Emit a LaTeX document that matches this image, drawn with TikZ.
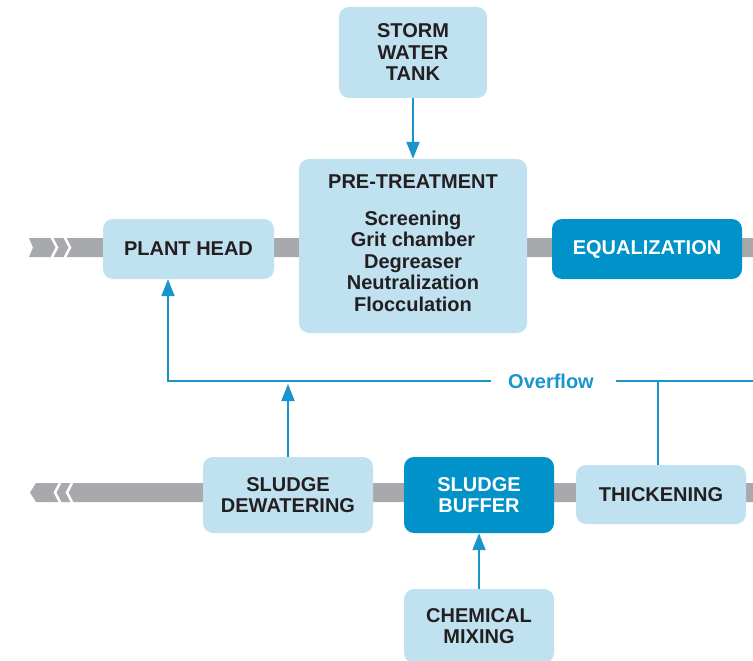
\documentclass[tikz,border=0pt]{standalone}
\usepackage{fontspec}
\setmainfont{Liberation Sans}
\usetikzlibrary{arrows.meta}
\definecolor{boxlight}{HTML}{C0E1F0}
\definecolor{boxdark}{HTML}{0092C8}
\definecolor{flowblue}{HTML}{1A95CC}
\definecolor{bandgray}{HTML}{A7A9AC}
\definecolor{inkdark}{HTML}{231F20}

\begin{document}
\begin{tikzpicture}[x=1pt,y=-1pt,
    lightbox/.style={fill=boxlight,rounded corners=10pt,text=inkdark,align=center,inner sep=0pt,font=\bfseries\fontsize{20}{21.5}\selectfont},
    darkbox/.style={lightbox,fill=boxdark,text=white},
    flow/.style={draw=flowblue,line width=2pt},
    flowarrow/.style={flow,-{Triangle[width=13pt,length=17pt]}}]
            \useasboundingbox (0,0) rectangle (753,661);

            \fill[bandgray] (29,238) -- (753,238) -- (753,257) -- (29,257) -- (33,247.5) -- cycle;
            \draw[white,line width=2.5pt] (51,236) -- (57,247.5) -- (51,259);
            \draw[white,line width=2.5pt] (64,236) -- (70,247.5) -- (64,259);

            \fill[bandgray] (30,492.5) -- (36,483) -- (753,483) -- (753,502) -- (36,502) -- cycle;
            \draw[white,line width=2.5pt] (61,481) -- (55,492.5) -- (61,504);
            \draw[white,line width=2.5pt] (73,481) -- (67,492.5) -- (73,504);

            \node[lightbox,minimum width=148pt,minimum height=91pt] (storm) at (413,52.5) {STORM\\WATER\\TANK};
            \node[lightbox,minimum width=228pt,minimum height=174pt] (pre) at (413,246) {};
            \node[lightbox,fill=none,align=center] (prelist) at (413,243) {PRE-TREATMENT\\[15.5pt]Screening\\Grit chamber\\Degreaser\\Neutralization\\Flocculation};
            \node[lightbox,minimum width=171pt,minimum height=60pt] (plant) at (188.5,249) {PLANT HEAD};
            \node[darkbox,minimum width=190pt,minimum height=60pt] (equal) at (647,249) {EQUALIZATION};

            \node[lightbox,minimum width=170pt,minimum height=76pt] (dewat) at (288,495) {SLUDGE\\DEWATERING};
            \node[darkbox,minimum width=150pt,minimum height=76pt] (buffer) at (479,495) {SLUDGE\\BUFFER};
            \node[lightbox,minimum width=170pt,minimum height=59pt] (thick) at (661,494.5) {THICKENING};
            \node[lightbox,minimum width=150pt,minimum height=74pt] (chem) at (479,626) {CHEMICAL\\MIXING};

            \node[text=flowblue,font=\bfseries\fontsize{20}{21.5}\selectfont] (over) at (551,381) {Overflow};
            \coordinate (ovL) at (168,381);
            \coordinate (ovR) at (753,381);
            \coordinate (ovT) at (658,381);

            \draw[flowarrow] (storm) -- (pre);
            \draw[flow] (ovR) -- ([xshift=19pt]over.east);
            \draw[flowarrow] ([xshift=-14pt]over.west) -- (ovL) -- (ovL |- plant.south);
            \draw[flow] (thick.north -| ovT) -- (ovT);
            \draw[flowarrow] (dewat.north) -- ([yshift=-3pt]dewat.north |- ovL);
            \draw[flowarrow] (chem) -- (buffer);
\end{tikzpicture}
\end{document}
